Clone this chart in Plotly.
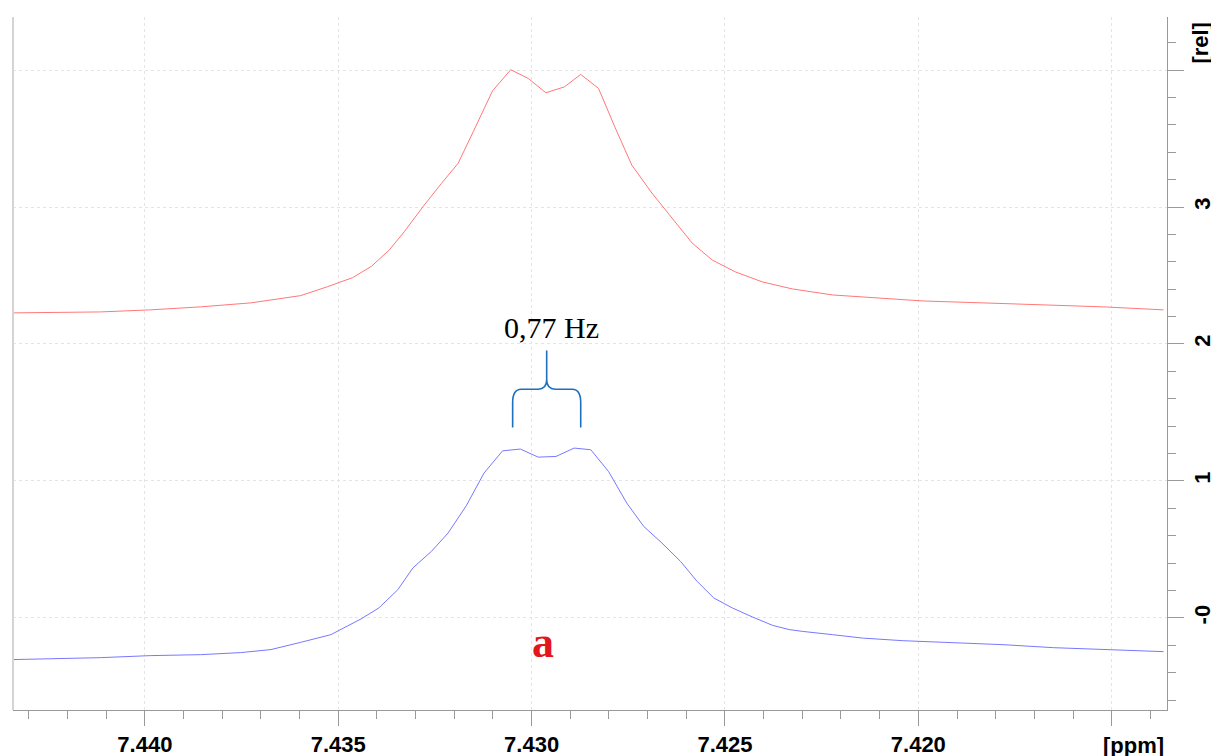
import plotly.graph_objects as go

# ---- data (chemical shift in ppm, intensity in rel. units) ----
red_ppm = [7.44341, 7.44115, 7.43986, 7.43856, 7.43726, 7.43597, 7.43527, 7.43463, 7.43415,
           7.43368, 7.43329, 7.43281, 7.43233, 7.43190, 7.43151, 7.43101, 7.43054, 7.43009,
           7.42963, 7.42915, 7.42873, 7.42827, 7.42785, 7.42741, 7.42689, 7.42637, 7.42585,
           7.42533, 7.42473, 7.42403, 7.42326, 7.42222, 7.42118, 7.41988, 7.41833, 7.41651,
           7.41521, 7.41366]
red_int = [2.227, 2.234, 2.249, 2.271, 2.300, 2.353, 2.419, 2.484, 2.565,
           2.686, 2.820, 3.002, 3.173, 3.319, 3.549, 3.848, 4.002, 3.939,
           3.834, 3.877, 3.968, 3.866, 3.586, 3.306, 3.102, 2.920, 2.737,
           2.613, 2.526, 2.453, 2.402, 2.358, 2.336, 2.314, 2.300, 2.285,
           2.271, 2.249]

blue_ppm = [7.44341, 7.44219, 7.44115, 7.43986, 7.43856, 7.43752, 7.43674, 7.43597, 7.43519,
            7.43441, 7.43395, 7.43346, 7.43307, 7.43259, 7.43216, 7.43169, 7.43123, 7.43075,
            7.43029, 7.42983, 7.42937, 7.42890, 7.42847, 7.42801, 7.42754, 7.42710, 7.42663,
            7.42615, 7.42572, 7.42529, 7.42481, 7.42429, 7.42377, 7.42334, 7.42300, 7.42222,
            7.42144, 7.42040, 7.41911, 7.41781, 7.41651, 7.41521, 7.41366]
blue_int = [-0.304, -0.297, -0.290, -0.275, -0.268, -0.253, -0.231, -0.178, -0.122,
            -0.007, 0.073, 0.206, 0.365, 0.486, 0.620, 0.819, 1.058, 1.220,
            1.233, 1.174, 1.179, 1.240, 1.228, 1.069, 0.839, 0.668, 0.547,
            0.413, 0.267, 0.146, 0.073, 0.007, -0.054, -0.085, -0.098, -0.122,
            -0.147, -0.166, -0.180, -0.195, -0.217, -0.231, -0.246]

x_tickvals = [7.440, 7.435, 7.430, 7.425, 7.420, 7.415]
x_ticktext = ["7.440", "7.435", "7.430", "7.425", "7.420", ""]
y_tickvals = [0, 1, 2, 3, 4]
y_ticktext = ["-0", "1", "2", "3", ""]

x_range = [7.44341, 7.41357]
y_range = [-0.672, 4.387]

coupling_label = "0,77 Hz"
sample_label = "a"

# brace geometry (data coordinates)
brace_left, brace_mid, brace_right = 7.43049, 7.42961, 7.42873
brace_bottom, brace_bar, brace_cusp, brace_top = 1.390, 1.670, 1.738, 1.952

fig = go.Figure()
fig.add_trace(go.Scatter(x=red_ppm, y=red_int, mode="lines",
                         line=dict(color="#ff7878", width=1), showlegend=False))
fig.add_trace(go.Scatter(x=blue_ppm, y=blue_int, mode="lines",
                         line=dict(color="#7878ff", width=1), showlegend=False))

tick_font = dict(family="Liberation Sans, Arial, sans-serif", size=22, color="black", weight="bold")

fig.update_xaxes(
    range=x_range, tickvals=x_tickvals, ticktext=x_ticktext, automargin=False,
    ticks="outside", ticklen=15, tickcolor="#999999", tickwidth=1,
    showline=True, linecolor="#999999", linewidth=1,
    showgrid=True, gridcolor="#e4e4e4", griddash="dot", gridwidth=1,
    zeroline=False, tickfont=tick_font,
    minor=dict(dtick=0.001, tick0=7.44, ticks="outside", ticklen=8,
               tickcolor="#999999", showgrid=False),
)
fig.update_yaxes(
    range=y_range, side="right", tickvals=y_tickvals, ticktext=y_ticktext, automargin=False,
    ticks="outside", ticklen=16, tickcolor="#999999", tickwidth=1,
    showline=True, linecolor="#999999", linewidth=1,
    showgrid=True, gridcolor="#e4e4e4", griddash="dot", gridwidth=1,
    zeroline=False, tickfont=tick_font, tickangle=-90,
    minor=dict(dtick=0.2, tick0=0, ticks="outside", ticklen=8,
               tickcolor="#999999", showgrid=False),
)

# left border line
fig.add_shape(type="line", xref="paper", yref="paper", x0=0, x1=0, y0=0, y1=1,
              line=dict(color="#d4d4d4", width=2))

# curly brace
dx = (brace_left - brace_mid) * 0.25
dy = (brace_bar - brace_bottom) * 0.35
path = (f"M {brace_left},{brace_bottom} L {brace_left},{brace_bar - dy} "
        f"Q {brace_left},{brace_bar} {brace_left - dx},{brace_bar} "
        f"L {brace_mid + dx},{brace_bar} "
        f"Q {brace_mid},{brace_bar} {brace_mid},{brace_cusp} "
        f"L {brace_mid},{brace_top} "
        f"M {brace_mid},{brace_cusp} "
        f"Q {brace_mid},{brace_bar} {brace_mid - dx},{brace_bar} "
        f"L {brace_right + dx},{brace_bar} "
        f"Q {brace_right},{brace_bar} {brace_right},{brace_bar - dy} "
        f"L {brace_right},{brace_bottom}")
fig.add_shape(type="path", xref="x", yref="y", path=path,
              line=dict(color="#1f6fbf", width=1.6))

fig.add_annotation(x=7.42948, y=2.117, xref="x", yref="y", text=coupling_label,
                   showarrow=False, xanchor="center", yanchor="middle",
                   font=dict(family="Liberation Serif, Times New Roman, serif", size=30, color="black"))
fig.add_annotation(x=7.42970, y=-0.177, xref="x", yref="y", text=sample_label,
                   showarrow=False, xanchor="center", yanchor="middle",
                   font=dict(family="Liberation Serif, Times New Roman, serif", size=44,
                             color="#e3161e", weight="bold"))
fig.add_annotation(x=1, y=4.2, xref="paper", yref="y", text="[rel]", textangle=-90,
                   showarrow=False, xanchor="center", yanchor="middle", xshift=34,
                   font=tick_font)
fig.add_annotation(x=7.41444, y=0, xref="x", yref="paper", text="[ppm]",
                   showarrow=False, xanchor="center", yanchor="middle", yshift=-35,
                   font=tick_font)

fig.update_layout(
    width=1211, height=756,
    margin=dict(l=13, r=44, t=17, b=46),
    paper_bgcolor="white", plot_bgcolor="white",
)

fig.write_html("out.html", config={"displayModeBar": False},
               post_script="document.body.style.margin='0';")
